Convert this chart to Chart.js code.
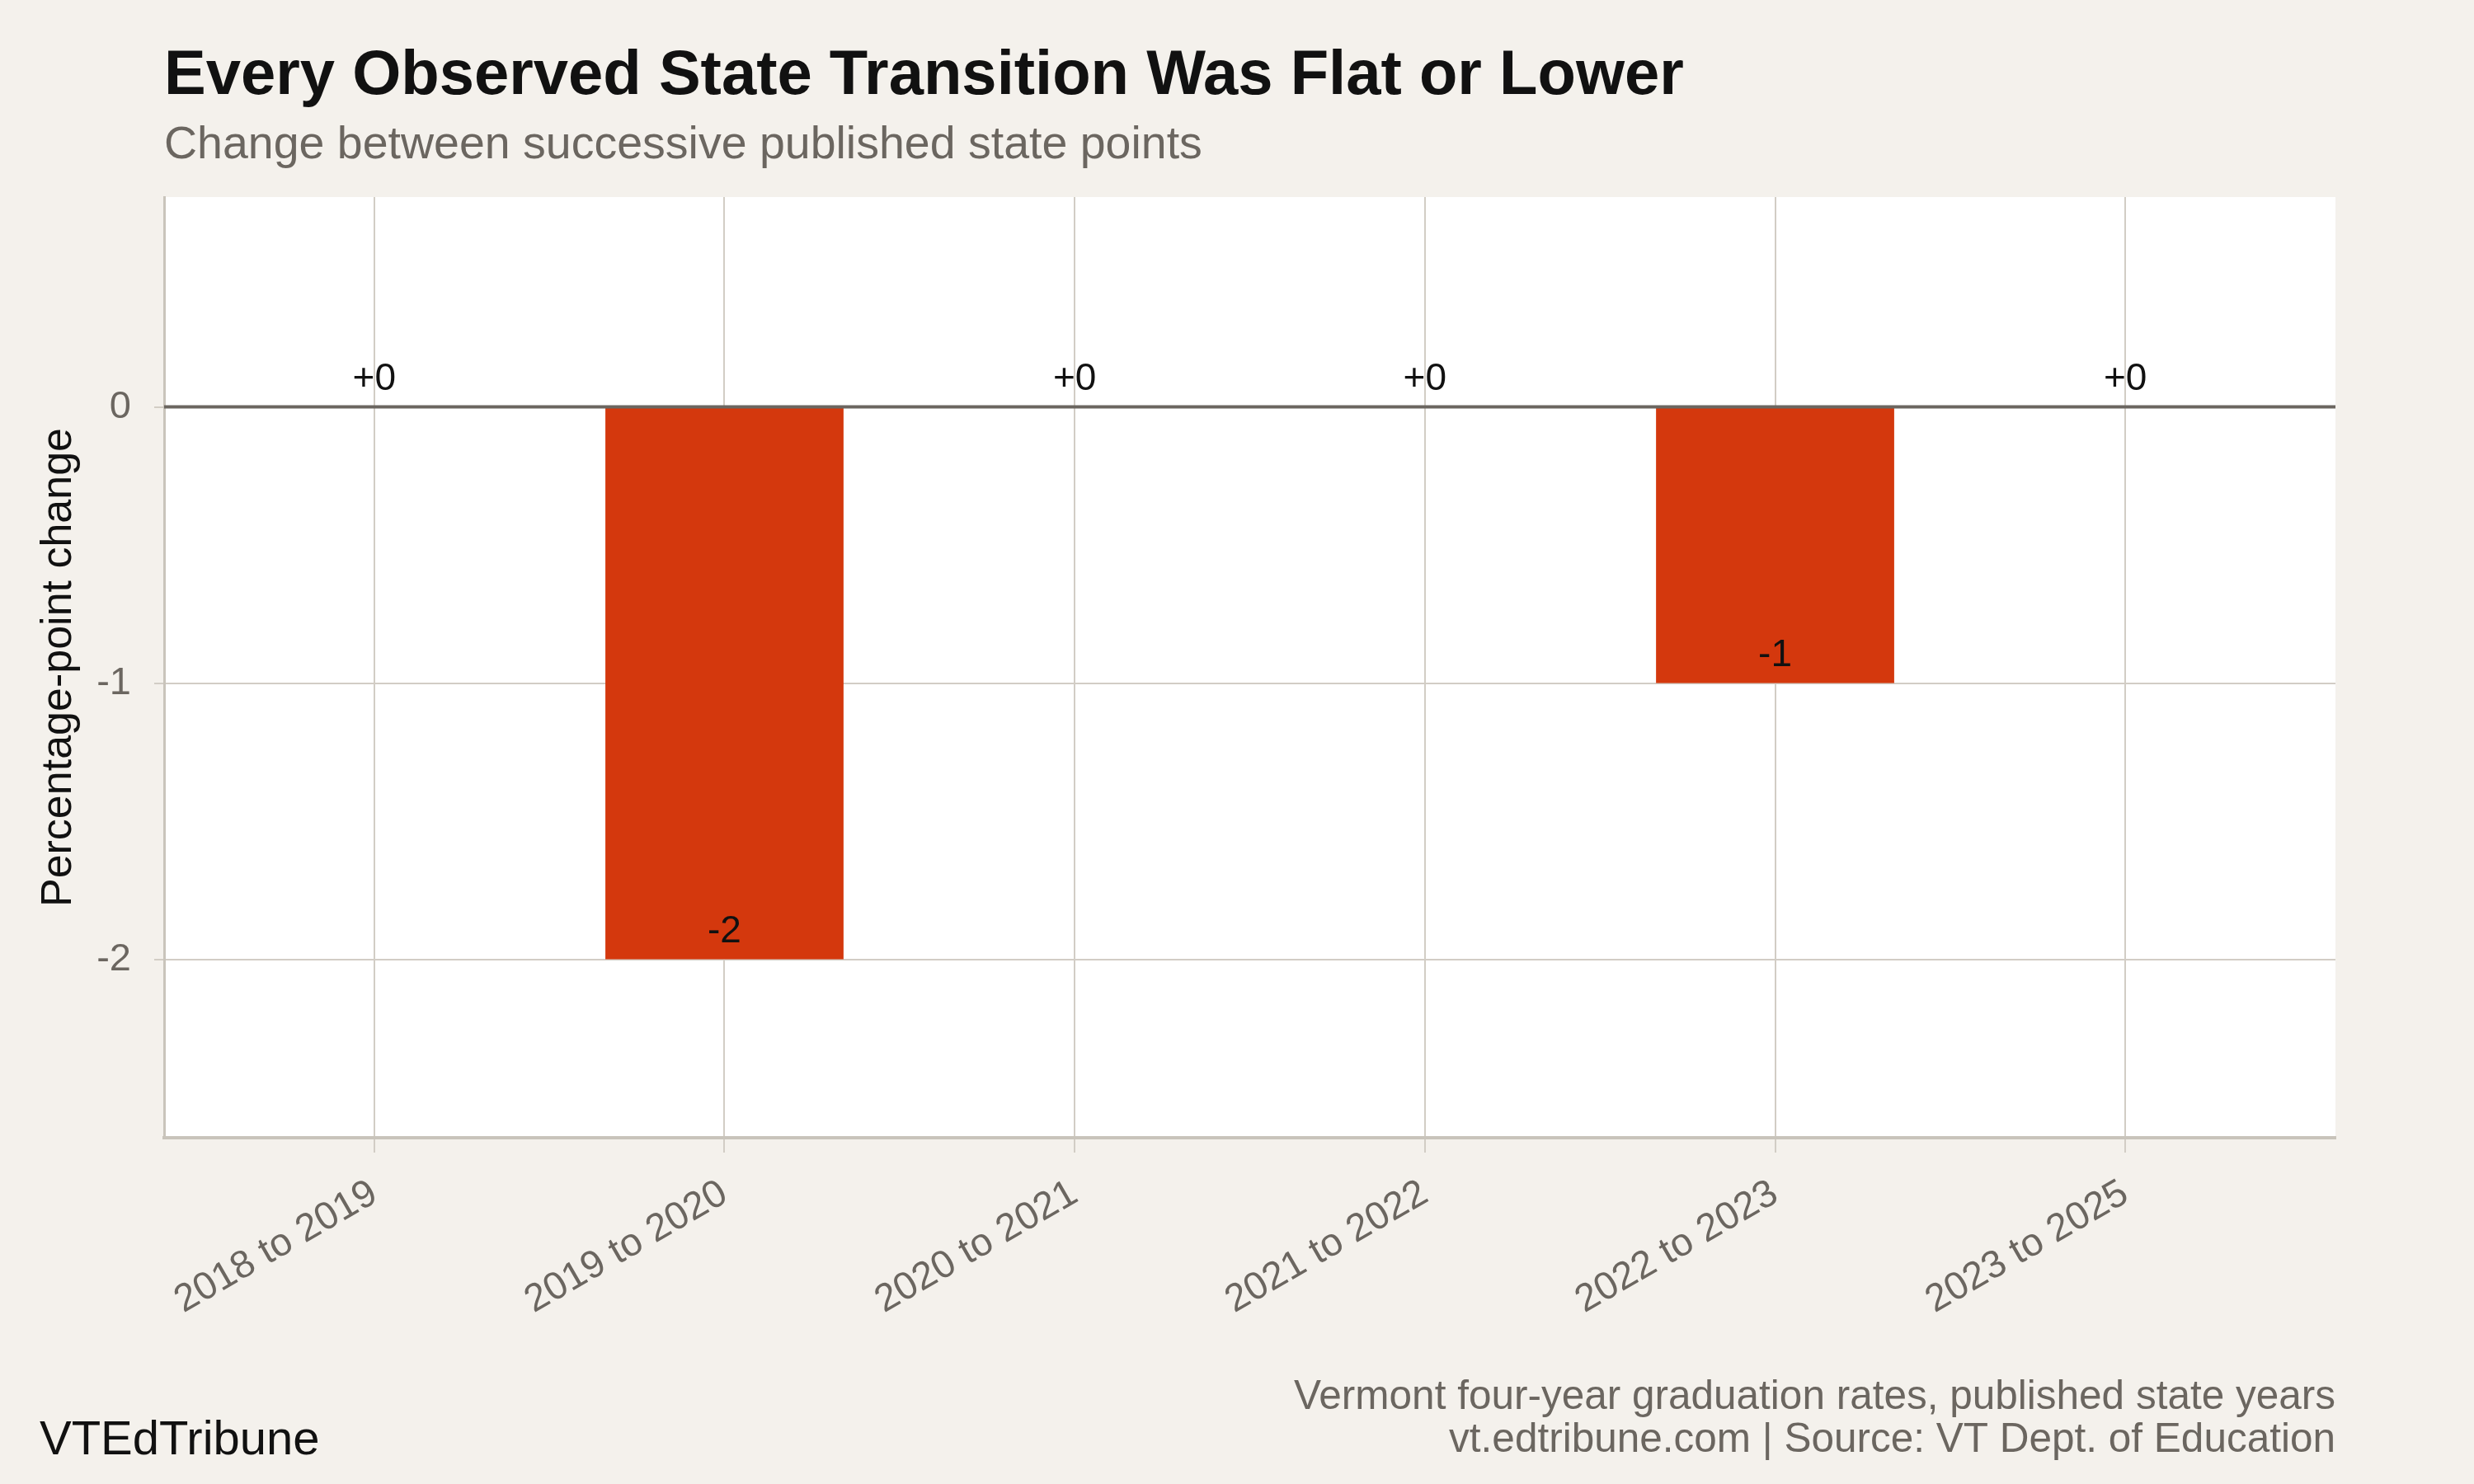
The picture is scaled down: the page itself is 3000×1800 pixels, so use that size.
<!DOCTYPE html>
<html>
<head>
<meta charset="utf-8">
<script src="https://cdn.jsdelivr.net/npm/chart.js@4.4.1/dist/chart.umd.min.js"></script>
<style>
  html, body { margin: 0; padding: 0; background: #f4f1ec; }
  #wrap { width: 3000px; height: 1800px; position: relative; }
</style>
</head>
<body>
<div id="wrap"><canvas id="chart" width="3000" height="1800"></canvas></div>
<script>
// data
const transitions = ['2018 to 2019', '2019 to 2020', '2020 to 2021', '2021 to 2022', '2022 to 2023', '2023 to 2025'];
const changes = [0, -2, 0, 0, -1, 0];
const valueLabels = ['+0', '-2', '+0', '+0', '-1', '+0'];
const yTicks = [-2, -1, 0];

const titleText = 'Every Observed State Transition Was Flat or Lower';
const subtitleText = 'Change between successive published state points';
const captionLines = ['Vermont four-year graduation rates, published state years', 'vt.edtribune.com | Source: VT Dept. of Education'];
const brandText = 'VTEdTribune';

const FONT = '"Liberation Sans", Arial, Helvetica, sans-serif';
const GRAY = '#6b6660';
const GRID = '#d2cdc5';
Chart.defaults.font.family = FONT;

// white plot panel behind everything
const panelPlugin = {
  id: 'panel',
  beforeDraw(chart) {
    const { ctx, chartArea: a } = chart;
    ctx.save();
    ctx.fillStyle = '#f4f1ec';
    ctx.fillRect(0, 0, chart.width, chart.height);
    ctx.fillStyle = '#ffffff';
    ctx.fillRect(a.left, a.top, a.right - a.left, a.bottom - a.top);
    ctx.restore();
  }
};

// zero line + value labels over the bars
const labelPlugin = {
  id: 'labels',
  afterDatasetsDraw(chart) {
    const { ctx, chartArea: a, scales } = chart;
    const y0 = scales.y.getPixelForValue(0);
    ctx.save();
    ctx.strokeStyle = GRAY;
    ctx.lineWidth = 4;
    ctx.beginPath();
    ctx.moveTo(a.left, y0);
    ctx.lineTo(a.right, y0);
    ctx.stroke();

    ctx.fillStyle = '#111111';
    ctx.font = '46px ' + FONT;
    ctx.textAlign = 'center';
    ctx.textBaseline = 'middle';
    const meta = chart.getDatasetMeta(0);
    meta.data.forEach((bar, i) => {
      const y = scales.y.getPixelForValue(changes[i]) - 33;
      ctx.fillText(valueLabels[i], bar.x, y);
    });
    ctx.restore();
  }
};

// title, subtitle, caption, brand
const textPlugin = {
  id: 'texts',
  afterDraw(chart) {
    const { ctx, chartArea: a } = chart;
    ctx.save();
    ctx.textBaseline = 'alphabetic';
    ctx.textAlign = 'left';
    ctx.fillStyle = '#111111';
    ctx.font = 'bold 76px ' + FONT;
    ctx.fillText(titleText, a.left, 114);
    ctx.fillStyle = GRAY;
    ctx.font = '55.5px ' + FONT;
    ctx.fillText(subtitleText, a.left, 192);

    ctx.font = '49.5px ' + FONT;
    ctx.textAlign = 'right';
    ctx.fillText(captionLines[0], a.right, 1709);
    ctx.fillText(captionLines[1], a.right, 1761);

    ctx.textAlign = 'left';
    ctx.fillStyle = '#111111';
    ctx.font = '58px ' + FONT;
    ctx.fillText(brandText, 48, 1764);
    ctx.restore();
  }
};

new Chart(document.getElementById('chart'), {
  type: 'bar',
  data: {
    datasets: [{
      data: changes.map((v, i) => ({ x: i, y: v })),
      backgroundColor: '#d4380d',
      borderWidth: 0,
      categoryPercentage: 1,
      barPercentage: 0.68
    }]
  },
  options: {
    responsive: false,
    devicePixelRatio: 1,
    animation: false,
    layout: { padding: { left: 0, top: 239, right: 168, bottom: 0 } },
    plugins: { legend: { display: false }, tooltip: { enabled: false }, title: { display: false } },
    scales: {
      x: {
        type: 'linear',
        min: -0.6,
        max: 5.6,
        offset: false,
        afterBuildTicks: s => { s.ticks = transitions.map((_, i) => ({ value: i })); },
        afterFit: s => { s.height = 420; },
        ticks: {
          callback: v => transitions[v],
          color: GRAY,
          font: { size: 47 },
          minRotation: 30,
          maxRotation: 30,
          autoSkip: false,
          padding: 22
        },
        grid: { offset: false, color: GRID, lineWidth: 2, tickLength: 18, tickColor: GRID },
        border: { color: '#c9c4bb', width: 4 }
      },
      y: {
        type: 'linear',
        min: -2.646,
        max: 0.76,
        afterBuildTicks: s => { s.ticks = yTicks.map(v => ({ value: v })); },
        afterFit: s => { s.width = 199; },
        ticks: { color: GRAY, font: { size: 47 }, padding: 28 },
        grid: { color: GRID, lineWidth: 2, tickLength: 12, tickColor: GRID },
        border: { color: '#c9c4bb', width: 3 },
        title: { display: true, text: 'Percentage-point change', color: '#111111', font: { size: 52 }, padding: { top: 40, bottom: 0 } }
      }
    }
  },
  plugins: [panelPlugin, labelPlugin, textPlugin]
});
</script>
</body>
</html>
